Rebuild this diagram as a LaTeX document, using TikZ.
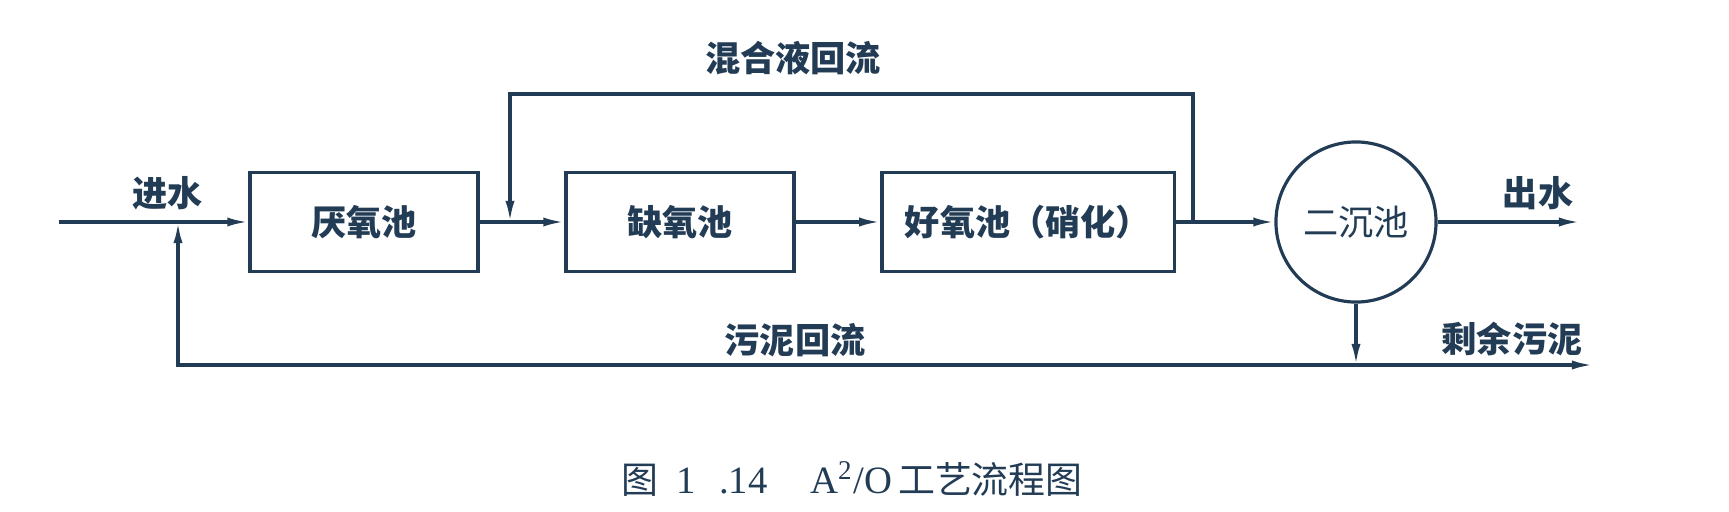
\documentclass[tikz,border=0pt]{standalone}
\usepackage{fontspec}
\setmainfont{Noto Sans CJK SC}
\newfontfamily\capserif{Liberation Serif}
\usetikzlibrary{arrows.meta}
\definecolor{ink}{RGB}{35,60,85}

\begin{document}
\begin{tikzpicture}[x=0.01cm,y=-0.01cm,color=ink,line width=0.9pt,
  tank/.style={draw,rectangle,minimum height=0.99cm,font=\bfseries\fontsize{10}{12}\selectfont},
  clarifier/.style={draw,circle,minimum size=1.6cm,inner sep=0pt,font=\fontsize{10}{12}\selectfont},
  lab/.style={font=\bfseries\fontsize{10}{12}\selectfont},
  flow/.style={-{Latex[length=6pt,width=2.6pt]}}]
\useasboundingbox (0,0) rectangle (1729,512);
% tanks
\node[tank,minimum width=2.28cm] (anaer) at (364,222) {厌氧池};
\node[tank,minimum width=2.28cm] (anox) at (680,222) {缺氧池};
\node[tank,minimum width=2.92cm] (aer) at (1028,222) {好氧池（硝化）};
\node[clarifier] (clar) at (1356,222) {二沉池};
% junctions and free ends
\coordinate (in) at (59,222);
\coordinate (ret) at (178,222);
\coordinate (mix) at (510,222);
\coordinate (mixtop) at (510,94);
\coordinate (split) at (1193,222);
\coordinate (out) at (1580,222);
\coordinate (tee) at (1356,365);
\coordinate (waste) at (1593,365);
% main line
\draw[flow] (in) -- (anaer);
\draw[flow] (anaer) -- (anox);
\draw[flow] (anox) -- (aer);
\draw[flow] (aer) -- (clar);
\draw[flow] (clar) -- (out);
% returns
\draw[flow] (split) |- (mixtop) -- (mix);
\draw[flow] (clar) -- (tee);
\draw[flow] (tee) -- (waste);
\draw[flow] (tee) -| (ret);
% labels
\node[lab] (inlab) at (168,193) {进水};
\node[lab] (mixlab) at (793,58) {混合液回流};
\node[lab] (raslab) at (795,340) {污泥回流};
\node[lab] (outlab) at (1538,193) {出水};
\node[lab] (waslab) at (1512,339) {剩余污泥};
\node[font=\fontsize{10.5}{12}\selectfont] (caption) at (852,479)
  {图\hspace{0.5em}{\capserif\fontsize{11}{12}\selectfont 1\hspace{0.6em}.14\hspace{1.1em}A\textsuperscript{2}/O}\,工艺流程图};
\end{tikzpicture}
\end{document}
